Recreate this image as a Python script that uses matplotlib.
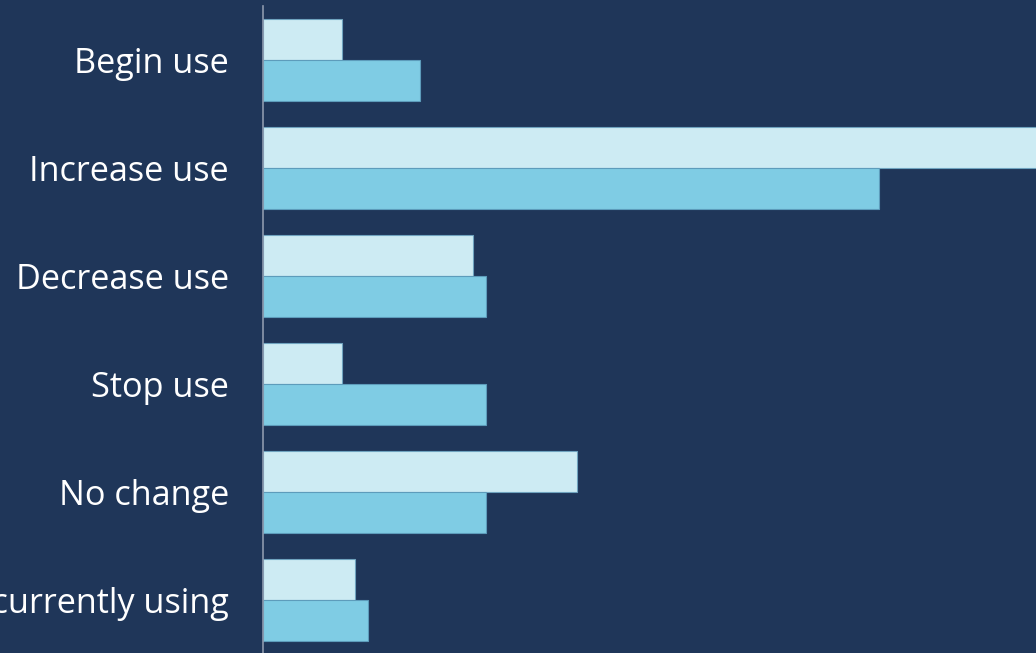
import matplotlib
matplotlib.use("Agg")
import matplotlib.pyplot as plt
import numpy as np

categories = ["Begin use", "Increase use", "Decrease use", "Stop use", "No change", "Not currently using"]
series_a = [6, 62, 16, 6, 24, 7]   # light
series_b = [12, 47, 17, 17, 17, 8]  # dark

bg = "#1f3659"
light = "#cdebf3"
dark = "#7fcce4"

fig = plt.figure(figsize=(10.36, 6.53), dpi=100, facecolor=bg)
ax = fig.add_axes([263/1036, -1/653, 1 - 263/1036, 648/653])
ax.set_facecolor(bg)

y = np.arange(len(categories))
h = 0.38
ax.barh(y - h/2, series_a, height=h, color=light, edgecolor="#6fa3bf", linewidth=0.8)
ax.barh(y + h/2, series_b, height=h, color=dark, edgecolor="#5d9cbb", linewidth=0.8)

ax.set_ylim(5.5, -0.5)
ax.set_xlim(0, 773/13.1)
ax.set_yticks(y)
ax.set_yticklabels(categories, fontsize=24.7, color="white", family=["Open Sans", "DejaVu Sans"])
ax.tick_params(axis="y", length=0, pad=24.5)
ax.set_xticks([])
for s in ["top", "right", "bottom"]:
    ax.spines[s].set_visible(False)
ax.spines["left"].set_color("#8d99ad")
ax.spines["left"].set_linewidth(1.2)

fig.savefig("out.png", dpi=100, facecolor=bg)
